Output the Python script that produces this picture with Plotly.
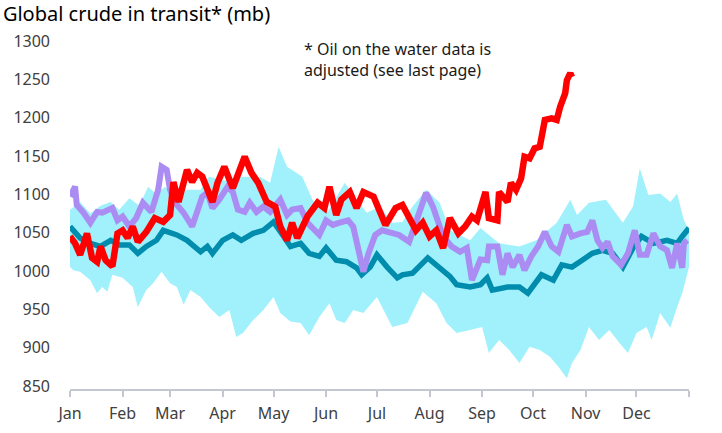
import plotly.graph_objects as go

# day of year (0 = 1 Jan) and values in mb
months = ["Jan", "Feb", "Mar", "Apr", "May", "Jun", "Jul", "Aug", "Sep", "Oct", "Nov", "Dec", ""]
month_start = [0, 31, 59, 90, 120, 151, 181, 212, 243, 273, 304, 334, 365]

band_hi_day = [0, 6, 12, 18, 24, 29, 35, 41, 46, 51, 56, 62, 69, 77, 82, 91, 100, 112, 118, 123,
               128, 137, 143, 152, 162, 169, 175, 183, 190, 196, 202, 210, 218, 224, 236, 242, 253,
               265, 275, 287, 295, 299, 306, 316, 326, 332, 336, 341, 348, 354, 358, 362, 365]
band_hi = [1080, 1090, 1075, 1085, 1090, 1080, 1095, 1085, 1110, 1100, 1110, 1100, 1106, 1106, 1123,
           1118, 1123, 1123, 1115, 1162, 1136, 1123, 1093, 1077, 1115, 1093, 1076, 1084, 1063, 1064,
           1084, 1106, 1089, 1053, 1040, 1056, 1036, 1032, 1040, 1063, 1093, 1073, 1089, 1093, 1063,
           1084, 1134, 1099, 1101, 1090, 1101, 1066, 1053]

band_lo_day = [0, 2, 6, 12, 16, 19, 22, 25, 31, 37, 40, 45, 49, 54, 59, 63, 67, 71, 77, 82, 88, 94,
               98, 102, 108, 114, 120, 124, 130, 136, 141, 147, 153, 157, 162, 167, 173, 181, 190,
               199, 208, 216, 222, 228, 236, 243, 247, 253, 259, 265, 271, 277, 283, 288, 293, 296,
               301, 306, 312, 318, 324, 329, 334, 340, 343, 348, 354, 358, 361, 365]
band_lo = [1005, 1001, 999, 988, 971, 979, 973, 995, 991, 979, 953, 975, 984, 999, 984, 979, 956, 975,
           966, 953, 940, 949, 914, 919, 936, 949, 966, 945, 934, 932, 916, 940, 958, 936, 932, 949,
           945, 966, 927, 932, 973, 958, 932, 919, 923, 927, 893, 910, 897, 880, 901, 897, 888, 875,
           860, 880, 897, 927, 910, 923, 906, 893, 919, 927, 910, 945, 926, 953, 971, 1005]

avg_day = [0, 6, 12, 18, 24, 29, 35, 40, 45, 51, 55, 63, 69, 77, 81, 84, 90, 96, 101, 108, 114, 120,
           126, 130, 136, 141, 147, 151, 157, 163, 169, 172, 177, 181, 187, 193, 196, 202, 211, 218,
           224, 228, 236, 242, 246, 249, 258, 265, 270, 278, 285, 290, 296, 302, 308, 314, 320, 326,
           332, 337, 344, 352, 358, 361, 365]
avg = [1058, 1043, 1036, 1032, 1040, 1034, 1034, 1023, 1032, 1040, 1053, 1047, 1040, 1025, 1032, 1023,
       1040, 1047, 1040, 1049, 1053, 1064, 1045, 1032, 1036, 1023, 1019, 1030, 1014, 1012, 1004, 995,
       1005, 1021, 1005, 991, 995, 997, 1017, 1003, 993, 982, 979, 982, 991, 975, 979, 979, 971, 995,
       988, 1008, 1005, 1014, 1023, 1027, 1023, 1005, 1030, 1045, 1036, 1040, 1036, 1045, 1056]

last_day = [0, 3, 4, 8, 12, 16, 19, 25, 28, 31, 35, 39, 43, 48, 52, 54, 57, 59, 62, 67, 72, 75, 78,
            81, 84, 88, 93, 96, 99, 103, 106, 110, 114, 118, 124, 128, 131, 136, 140, 143, 147, 151,
            155, 159, 164, 167, 170, 173, 176, 180, 184, 190, 194, 200, 204, 208, 210, 214, 217, 220,
            225, 230, 234, 237, 242, 246, 247, 252, 255, 258, 261, 265, 268, 272, 276, 280, 284, 288,
            293, 296, 301, 305, 308, 311, 314, 317, 320, 325, 329, 333, 336, 340, 344, 348, 352, 355,
            358, 361, 362, 364]
last_year = [1097, 1110, 1086, 1076, 1063, 1077, 1076, 1082, 1066, 1071, 1058, 1069, 1089, 1077, 1106,
             1136, 1132, 1106, 1089, 1076, 1058, 1077, 1097, 1102, 1082, 1093, 1110, 1103, 1080, 1077,
             1089, 1077, 1084, 1077, 1093, 1073, 1080, 1082, 1063, 1056, 1047, 1066, 1060, 1063, 1066,
             1058, 1032, 999, 1023, 1047, 1053, 1049, 1047, 1038, 1063, 1093, 1102, 1084, 1063, 1045,
             1032, 1025, 1030, 988, 1015, 1014, 1032, 1032, 995, 1023, 1005, 1021, 1001, 1019, 1032,
             1051, 1032, 1025, 1060, 1045, 1049, 1051, 1066, 1040, 1030, 1038, 1019, 1008, 1023, 1053,
             1021, 1021, 1049, 1032, 1027, 1004, 1036, 1004, 1036, 1040]

this_day = [0, 3, 6, 10, 13, 16, 18, 21, 24, 25, 28, 31, 34, 37, 40, 45, 50, 55, 59, 61, 64, 69, 72,
            75, 78, 84, 87, 91, 96, 99, 103, 107, 111, 116, 121, 124, 128, 131, 134, 140, 146, 150,
            153, 157, 160, 165, 169, 173, 179, 186, 192, 196, 200, 204, 208, 212, 216, 220, 224, 229,
            233, 237, 240, 245, 247, 252, 253, 258, 260, 263, 266, 268, 271, 274, 277, 280, 284, 287,
            289, 292, 293, 295, 296]
this_year = [1045, 1036, 1021, 1049, 1017, 1012, 1032, 1014, 1008, 1006, 1049, 1053, 1043, 1058, 1038,
             1051, 1069, 1064, 1073, 1116, 1090, 1132, 1116, 1128, 1123, 1090, 1115, 1136, 1108, 1128,
             1149, 1128, 1115, 1090, 1084, 1058, 1040, 1063, 1043, 1071, 1089, 1082, 1110, 1073, 1093,
             1103, 1082, 1103, 1097, 1060, 1082, 1086, 1069, 1053, 1063, 1045, 1053, 1030, 1069, 1049,
             1058, 1071, 1066, 1103, 1069, 1066, 1103, 1090, 1115, 1106, 1121, 1149, 1147, 1160, 1162,
             1197, 1199, 1197, 1214, 1232, 1249, 1258, 1253]

fig = go.Figure()

# range band drawn as one closed shape
fig.add_trace(go.Scatter(
    x=band_hi_day + band_lo_day[::-1],
    y=band_hi + band_lo[::-1],
    fill="toself", fillcolor="rgb(160,241,252)",
    line=dict(width=0), mode="lines", hoverinfo="skip", showlegend=False,
))
fig.add_trace(go.Scatter(x=avg_day, y=avg, mode="lines",
                         line=dict(color="rgb(0,140,172)", width=5.5), showlegend=False))
fig.add_trace(go.Scatter(x=last_day, y=last_year, mode="lines",
                         line=dict(color="rgb(170,140,242)", width=6), showlegend=False))
fig.add_trace(go.Scatter(x=this_day, y=this_year, mode="lines",
                         line=dict(color="rgb(255,0,0)", width=6.5), showlegend=False))

fig.update_layout(
    width=722, height=433,
    margin=dict(l=70, r=33, t=41, b=44),
    paper_bgcolor="white", plot_bgcolor="white",
    font=dict(family="Noto Sans", size=16, color="#404040"),
    title=dict(text="Global crude in transit* (mb)", x=0.004, xanchor="left",
               y=0.968, yanchor="middle", font=dict(size=20, color="black")),
    xaxis=dict(range=[0, 365], tickvals=month_start, ticktext=months,
               showgrid=False, zeroline=False, showline=True, linecolor="#c3c8d0", linewidth=1.5,
               ticks="outside", ticklen=6, tickcolor="#c3c8d0", tickwidth=1.5,
               ticklabelstandoff=3, automargin=False),
    yaxis=dict(range=[846, 1300], tickvals=list(range(850, 1301, 50)),
               showgrid=False, zeroline=False, showline=False, ticks="", ticklabelstandoff=19,
               automargin=False),
    annotations=[dict(
        text="* Oil on the water data is<br>adjusted (see last page)",
        xref="paper", yref="paper", x=0.375, y=1.014, xanchor="left", yanchor="top",
        align="left", showarrow=False, font=dict(size=16, color="#1a1a1a"),
    )],
)

# drop the default 8px page margin so the figure fills the window exactly
fig.write_html("out.html", config={"displayModeBar": False},
               post_script="document.body.style.margin = '0';")
